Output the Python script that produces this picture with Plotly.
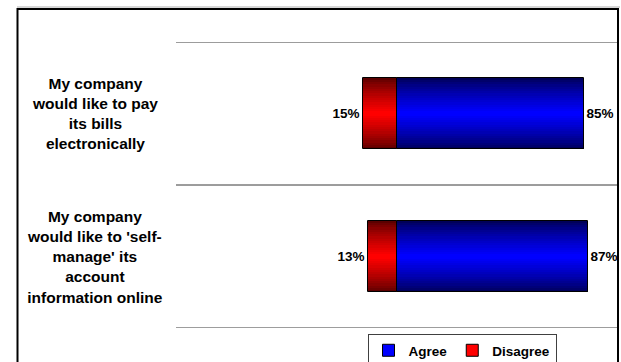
import plotly.graph_objects as go

# ---- data ----
categories = [
    "My company<br>would like to pay<br>its bills<br>electronically",
    "My company<br>would like to 'self-<br>manage' its<br>account<br>information online",
]
agree = [85, 87]
disagree = [15, 13]
series_names = ["Agree", "Disagree"]

# ---- layout constants ----
W, H = 621, 362
ML, MR, MT, MB = 176, 4, 42, 34
PW, PH = W - ML - MR, H - MT - MB
FONT = "Liberation Sans, Arial, sans-serif"


def px_x(px):
    return (px - ML) / PW


def px_y(py):
    return (H - MB - py) / PH


def blend(c1, c2, t):
    return "rgb(%d,%d,%d)" % tuple(round(a + (b - a) * t) for a, b in zip(c1, c2))


fig = go.Figure()

# legend entries
fig.add_trace(go.Bar(y=[None], x=[None], orientation="h", name=series_names[0],
                     marker=dict(color="#0000FF", line=dict(color="black", width=1))))
fig.add_trace(go.Bar(y=[None], x=[None], orientation="h", name=series_names[1],
                     marker=dict(color="#FF0000", line=dict(color="black", width=1))))

THICK = 0.5
N = 16
specs = [
    (agree, 1, (0x00, 0x00, 0x58), (0x00, 0x00, 0xFF)),
    (disagree, -1, (0x5A, 0x00, 0x00), (0xFF, 0x00, 0x00)),
]
for vals, sign, dark, bright in specs:
    xs = [sign * v for v in vals]
    for k in range(N):
        t = (k / (N - 1)) ** 0.8
        fig.add_trace(go.Bar(
            y=categories, x=xs, base=0, orientation="h",
            width=THICK * (1 - k / N),
            marker=dict(color=blend(dark, bright, t), line=dict(width=0)),
            showlegend=False, hoverinfo="skip",
        ))
    # outline + labels
    fig.add_trace(go.Bar(
        y=categories, x=xs, base=0, orientation="h", width=THICK,
        marker=dict(color="rgba(0,0,0,0)", line=dict(color="black", width=1)),
        text=[f"{v}%" for v in vals], textposition="outside",
        textfont=dict(family=FONT, size=13.5, color="black", weight="bold"),
        constraintext="none", cliponaxis=False,
        showlegend=False, hoverinfo="skip",
    ))

# category labels (centered multi-line)
for c in categories:
    fig.add_annotation(
        x=px_x(95), xref="paper", y=c, yref="y",
        text=c, showarrow=False, align="center",
        xanchor="center", yanchor="middle",
        font=dict(family=FONT, size=15.5, color="black", weight="bold"),
    )

shapes = []
# category boundary gridlines
for i in range(len(categories) + 1):
    shapes.append(dict(type="line", xref="paper", yref="y",
                       x0=0, x1=1, y0=i - 0.5, y1=i - 0.5,
                       line=dict(color="#3a3a3a", width=1)))
# outer frame
shapes.append(dict(type="line", xref="paper", yref="paper",
                   x0=px_x(17), x1=px_x(620), y0=px_y(7), y1=px_y(7),
                   line=dict(color="#b0b0b0", width=1)))
shapes.append(dict(type="rect", xref="paper", yref="paper",
                   x0=px_x(17.5), x1=px_x(618), y0=px_y(9), y1=px_y(400),
                   line=dict(color="black", width=2), fillcolor="rgba(0,0,0,0)"))

fig.update_layout(
    width=W, height=H, autosize=False,
    margin=dict(l=ML, r=MR, t=MT, b=MB, pad=0, autoexpand=False),
    paper_bgcolor="white", plot_bgcolor="white",
    barmode="overlay", bargap=0,
    showlegend=True,
    legend=dict(orientation="h", x=px_x(462), xanchor="center",
                y=px_y(334), yanchor="top",
                bgcolor="white", bordercolor="#404040", borderwidth=1,
                font=dict(family=FONT, size=13.5, color="black", weight="bold"),
                itemwidth=30, traceorder="normal", tracegroupgap=0),
    xaxis=dict(range=[-100, 100], visible=False, fixedrange=True),
    yaxis=dict(type="category", categoryorder="array", categoryarray=categories,
               range=[len(categories) - 0.5, -0.5], showticklabels=False,
               showgrid=False, zeroline=False, showline=False, ticks=""),
    shapes=shapes,
    font=dict(family=FONT, color="black"),
)

fig.write_html("out.html")
